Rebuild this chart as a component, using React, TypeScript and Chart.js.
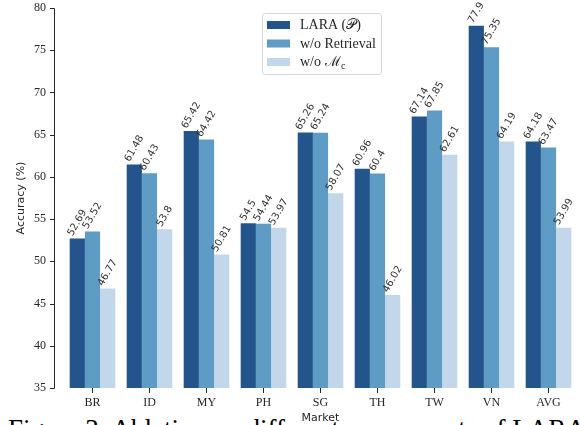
import React, { useEffect, useRef } from 'react';
import { Chart, registerables } from 'chart.js';

Chart.register(...registerables);

const markets = ['BR', 'ID', 'MY', 'PH', 'SG', 'TH', 'TW', 'VN', 'AVG'];
const laraValues = [52.69, 61.48, 65.42, 54.5, 65.26, 60.96, 67.14, 77.9, 64.18];
const noRetrievalValues = [53.52, 60.43, 64.42, 54.44, 65.24, 60.4, 67.85, 75.35, 63.47];
const noMcValues = [46.77, 53.8, 50.81, 53.97, 58.07, 46.02, 62.61, 64.19, 53.99];
const seriesLabels = ['LARA (𝒫)', 'w/o Retrieval', 'w/o ℳ_c'];
const seriesColors = ['#23558c', '#5e9bc5', '#c2d7e9'];
const yMin = 35;
const yMax = 80;
const yStep = 5;
const xTitle = 'Market';
const yTitle = 'Accuracy (%)';
const caption = 'Figure 3: Ablation on different components of LARA in';

const AXIS_COLOR = '#262626';

function drawRich(ctx: CanvasRenderingContext2D, label: string, x: number, y: number, size: number, family: string) {
  const idx = label.indexOf('_');
  ctx.font = `${size}px ${family}`;
  if (idx < 0) {
    ctx.fillText(label, x, y);
    return;
  }
  const main = label.slice(0, idx);
  const sub = label.slice(idx + 1);
  ctx.fillText(main, x, y);
  const w = ctx.measureText(main).width;
  ctx.font = `${Math.round(size * 0.7)}px ${family}`;
  ctx.fillText(sub, x + w + 0.5, y + size * 0.25);
}

const barLabelPlugin = {
  id: 'barLabels',
  afterDatasetsDraw(chart: any) {
    const ctx = chart.ctx as CanvasRenderingContext2D;
    ctx.save();
    ctx.font = '10px "DejaVu Sans"';
    ctx.fillStyle = '#333333';
    ctx.textBaseline = 'middle';
    ctx.textAlign = 'left';
    const th = (60 * Math.PI) / 180;
    const h = 7.4;
    chart.data.datasets.forEach((ds: any, i: number) => {
      const meta = chart.getDatasetMeta(i);
      meta.data.forEach((bar: any, j: number) => {
        const text = String(ds.data[j]);
        const L = ctx.measureText(text).width;
        const x0 = bar.x - (L * Math.cos(th)) / 2;
        const y0 = bar.y - (h / 2) * Math.cos(th) - 1.5;
        ctx.save();
        ctx.translate(x0, y0);
        ctx.rotate(-th);
        ctx.fillText(text, 0, 0);
        ctx.restore();
      });
    });
    ctx.restore();
  },
};

const axisPlugin = {
  id: 'offsetYAxis',
  afterDraw(chart: any) {
    const ctx = chart.ctx as CanvasRenderingContext2D;
    const y = chart.scales.y;
    const xs = 54.5;
    ctx.save();
    ctx.strokeStyle = AXIS_COLOR;
    ctx.lineWidth = 1;
    ctx.beginPath();
    ctx.moveTo(xs, Math.round(y.getPixelForValue(yMax)) + 0.5);
    ctx.lineTo(xs, Math.round(y.getPixelForValue(yMin)) + 0.5);
    y.ticks.forEach((t: any) => {
      const py = Math.round(y.getPixelForValue(t.value)) + 0.5;
      ctx.moveTo(xs - 4.5, py);
      ctx.lineTo(xs, py);
    });
    ctx.stroke();
    ctx.restore();
  },
};

const legendPlugin = {
  id: 'customLegend',
  afterDraw(chart: any) {
    const ctx = chart.ctx as CanvasRenderingContext2D;
    const bx = 262.5;
    const by = 13.5;
    const bw = 119;
    const bh = 61;
    ctx.save();
    ctx.fillStyle = 'rgba(255,255,255,0.85)';
    ctx.strokeStyle = '#d6d6d6';
    ctx.lineWidth = 1;
    ctx.beginPath();
    (ctx as any).roundRect(bx, by, bw, bh, 3);
    ctx.fill();
    ctx.stroke();
    chart.data.datasets.forEach((ds: any, i: number) => {
      const cy = 25 + i * 18.5;
      ctx.fillStyle = ds.backgroundColor;
      ctx.fillRect(267, cy - 4, 23, 8);
      ctx.fillStyle = AXIS_COLOR;
      ctx.textBaseline = 'middle';
      ctx.textAlign = 'left';
      drawRich(ctx, ds.label, 300, cy + 0.5, 14, '"Liberation Serif"');
    });
    ctx.restore();
  },
};

export default function App() {
  const canvasRef = useRef<HTMLCanvasElement | null>(null);

  useEffect(() => {
    const canvas = canvasRef.current;
    if (!canvas) return;
    const values = [laraValues, noRetrievalValues, noMcValues];
    const chart = new Chart(canvas, {
      type: 'bar',
      data: {
        labels: markets,
        datasets: values.map((v, i) => ({
          label: seriesLabels[i],
          data: v,
          backgroundColor: seriesColors[i],
          borderWidth: 0,
          categoryPercentage: 0.8,
          barPercentage: 1.0,
        })),
      },
      options: {
        responsive: false,
        maintainAspectRatio: false,
        animation: false,
        layout: { padding: { left: 0, top: 8, right: 3, bottom: 0 } },
        plugins: {
          legend: { display: false },
          tooltip: { enabled: false },
        },
        scales: {
          x: {
            grid: {
              display: true,
              drawOnChartArea: false,
              drawTicks: true,
              tickLength: 5,
              offset: false,
              color: AXIS_COLOR,
            },
            border: { display: false },
            ticks: {
              font: { family: 'Liberation Serif', size: 12 },
              color: AXIS_COLOR,
              padding: 3,
              maxRotation: 0,
            },
            title: {
              display: true,
              text: xTitle,
              font: { family: 'DejaVu Sans', size: 11 },
              color: AXIS_COLOR,
              padding: { top: 0, bottom: 0 },
            },
            afterFit: (s: any) => {
              s.height = 37;
            },
          },
          y: {
            min: yMin,
            max: yMax,
            ticks: {
              stepSize: yStep,
              font: { family: 'Liberation Serif', size: 12 },
              color: AXIS_COLOR,
              padding: 0,
            },
            grid: { display: false, drawTicks: true, tickLength: 18 },
            border: { display: false },
            title: {
              display: true,
              text: yTitle,
              font: { family: 'DejaVu Sans', size: 11 },
              color: AXIS_COLOR,
              padding: { top: 15, bottom: 0 },
            },
            afterFit: (s: any) => {
              s.width = 64;
            },
          },
        },
      } as any,
      plugins: [barLabelPlugin, axisPlugin, legendPlugin],
    });
    return () => chart.destroy();
  }, []);

  return (
    <div
      style={{
        position: 'fixed',
        left: 0,
        top: 0,
        width: 580,
        height: 425,
        overflow: 'hidden',
        background: '#ffffff',
      }}
    >
      <div
        style={{
          position: 'absolute',
          left: 8,
          top: 416,
          fontFamily: '"Liberation Serif", serif',
          fontSize: 27,
          lineHeight: '27px',
          whiteSpace: 'nowrap',
          color: '#000',
        }}
      >
        {caption}
      </div>
      <canvas
        ref={canvasRef}
        width={580}
        height={425}
        style={{ position: 'absolute', left: 0, top: 0, display: 'block' }}
      />
    </div>
  );
}
